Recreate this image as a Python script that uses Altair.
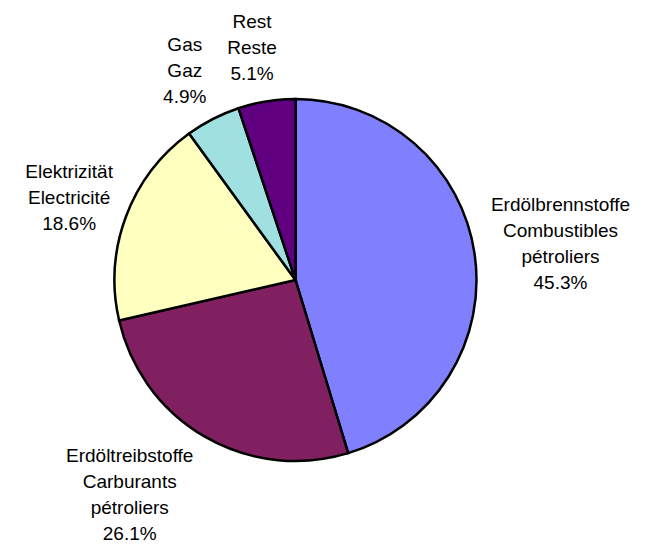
import math
import altair as alt
import pandas as pd

# ---- data ----
names_de = ["Erdölbrennstoffe", "Erdöltreibstoffe", "Elektrizität", "Gas", "Rest"]
names_fr = ["Combustibles\npétroliers", "Carburants\npétroliers", "Electricité", "Gaz", "Reste"]
shares = [45.3, 26.1, 18.6, 4.9, 5.1]
colors = ["#8080FF", "#802060", "#FFFFC0", "#A0E0E0", "#600080"]

# ---- layout parameters ----
W, H = 635, 539
CX, CY = 287.5, 272.0
R_PIE = 181
R_LAB_X = 190
R_LAB_Y = 196
LINE_H = 26
PX_PER_EM = 21.0  # effective label width per em in the reference

# approximate Arial advance widths (em) for text measuring
_NARROW = {"i": .222, "l": .222, "j": .222, "f": .278, "t": .278, "r": .333, ".": .278,
           "s": .5, "c": .5, "k": .5, "z": .5, "y": .5, "v": .5, "x": .5,
           "m": .833, "w": .722, "%": .889, "E": .667, "C": .722, "G": .778, "R": .722}


def text_em(line):
    return sum(_NARROW.get(ch, .556) for ch in line)


def clamp(v):
    return max(-1.0, min(1.0, v))


rows = []
total = sum(shares)
cum = 0.0
for i, (de, fr, v) in enumerate(zip(names_de, names_fr, shares)):
    label = f"{de}\n{fr}\n{v:.1f}%"
    lines = label.split("\n")
    mid = 2 * math.pi * (cum + v / 2) / total
    cum += v
    s, c = math.sin(mid), math.cos(mid)
    ax = CX + R_LAB_X * s
    ay = CY - R_LAB_Y * c
    hw = max(text_em(l) for l in lines) * PX_PER_EM / 2
    hh = len(lines) * LINE_H / 2
    lx = ax + hw * clamp(3 * s)
    cy_block = ay - hh * clamp(c)
    ly = cy_block - (len(lines) - 1) / 2 * LINE_H
    rows.append({"idx": i, "name": de, "value": v, "label": label, "lx": lx, "ly": ly})

df = pd.DataFrame(rows)

arc = alt.Chart(df).mark_arc(radius=R_PIE, stroke="black", strokeWidth=2.5).encode(
    theta=alt.Theta("value:Q", stack=True),
    color=alt.Color("name:N", scale=alt.Scale(domain=names_de, range=colors), legend=None),
    order=alt.Order("idx:Q"),
    x=alt.value(CX),
    y=alt.value(CY),
)

text = alt.Chart(df).mark_text(
    font="Liberation Sans", fontSize=19, lineBreak="\n", lineHeight=LINE_H,
    align="center", baseline="middle", color="black",
).encode(
    x=alt.X("lx:Q", scale=None, axis=None),
    y=alt.Y("ly:Q", scale=None, axis=None),
    text="label:N",
)

chart = alt.layer(arc, text).properties(
    width=W, height=H, padding=0, autosize="none", background="white"
).configure_view(stroke=None)

chart.save("out.html", embed_options={"renderer": "svg", "actions": False})
